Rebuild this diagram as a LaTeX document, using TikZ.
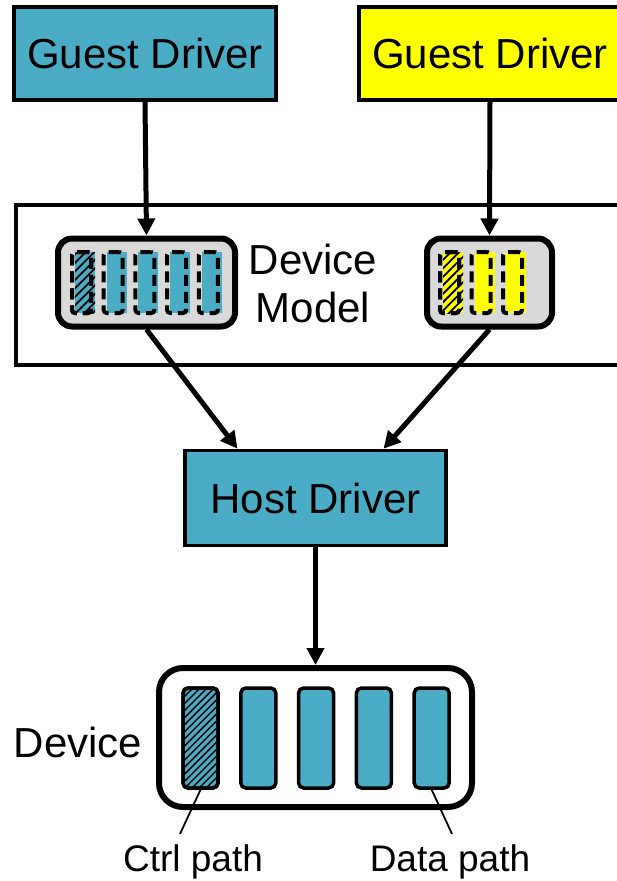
\documentclass[tikz,border=0pt]{standalone}
\usepackage{fontspec}
\setmainfont{Liberation Sans}
\usetikzlibrary{positioning,arrows.meta,patterns.meta}
\definecolor{drvblue}{HTML}{4BACC6}
\definecolor{qgray}{HTML}{D9D9D9}
\definecolor{gyellow}{HTML}{FFFF00}

\begin{document}
\begin{tikzpicture}[x=1pt,y=-1pt,
    driver/.style={rectangle,draw,line width=3.5pt,fill=drvblue,minimum width=262pt,minimum height=93pt,font=\fontsize{42}{48}\selectfont},
    queue/.style={rectangle,rounded corners=14pt,draw,line width=6pt,fill=qgray,minimum height=88pt},
    vslot/.style={rectangle,rounded corners=3pt,draw,line width=4pt,dash pattern=on 11pt off 6pt,minimum width=19pt,minimum height=61pt,inner sep=0pt},
    dslot/.style={rectangle,rounded corners=5pt,draw,line width=3.5pt,fill=drvblue,minimum width=35pt,minimum height=100pt,inner sep=0pt},
    flow/.style={line width=5pt,-{Triangle[length=17pt,width=17pt]}},
    big/.style={font=\fontsize{42}{48}\selectfont},
    lbl/.style={font=\fontsize{37}{42}\selectfont,anchor=base,inner sep=0pt}]

\useasboundingbox (0,0) rectangle (616,881);

\node[driver] (ga) at (145,53.5) {Guest Driver};
\node[driver,fill=gyellow] (gb) at (490,53.5) {Guest Driver};

\node[rectangle,draw,line width=3.5pt,minimum width=624pt,minimum height=160pt] (frame) at (328,285) {};
\node[big,align=center] (dm) at (313,283) {Device\\Model};

\node[queue,minimum width=177pt] (qa) at (146.5,282.5) {};
\node[queue,minimum width=125pt] (qb) at (489.5,282.5) {};

\foreach \i in {0,...,4} {
  \fill[drvblue] (75+31.7*\i,252) rectangle ++(20,61);
  \node[vslot] (a\i) at (81.5+31.7*\i,282.5) {};
}
\fill[pattern={Lines[angle=45,distance=6pt,line width=1.8pt]}] (75,252) rectangle ++(20,61);
\node[vslot] at (a0) {};

\foreach \i in {0,...,2} {
  \fill[gyellow] (443+31.5*\i,252) rectangle ++(20,61);
  \node[vslot] (b\i) at (449.5+31.5*\i,282.5) {};
}
\fill[pattern={Lines[angle=45,distance=6pt,line width=1.8pt]}] (443,252) rectangle ++(20,61);
\node[vslot] at (b0) {};

\node[driver,minimum width=261pt,minimum height=95pt] (host) at (315.5,498) {Host Driver};

\node[rectangle,rounded corners=24pt,draw,line width=6pt,minimum width=313pt,minimum height=139pt] (dev) at (315.5,737.5) {};
\node[big] (devlbl) at (78,742) {Device};
\foreach \i in {0,...,4}
  \node[dslot] (s\i) at (200.5+57.8*\i,738) {};
\fill[pattern={Lines[angle=45,distance=5pt,line width=1.5pt]}] (185,690) rectangle (216,786);
\node[dslot,fill=none] at (s0) {};

\draw[flow] (ga.south) -- (qa.north);
\draw[flow] (gb.south) -- (qb.north);
\draw[flow] (qa.south) -- ([xshift=-78pt]host.north);
\draw[flow] (qb.south) -- ([xshift=68pt]host.north);
\draw[flow] (host.south) -- (dev.north);

\node[lbl] (ctrl) at (193,871) {Ctrl path};
\node[lbl] (data) at (450,871) {Data path};
\draw[line width=1.8pt] (s0.south) -- ([shift={(-13pt,10pt)}]ctrl.north);
\draw[line width=1.8pt] (s4.south) -- ([shift={(2pt,10pt)}]data.north);

\end{tikzpicture}
\end{document}
